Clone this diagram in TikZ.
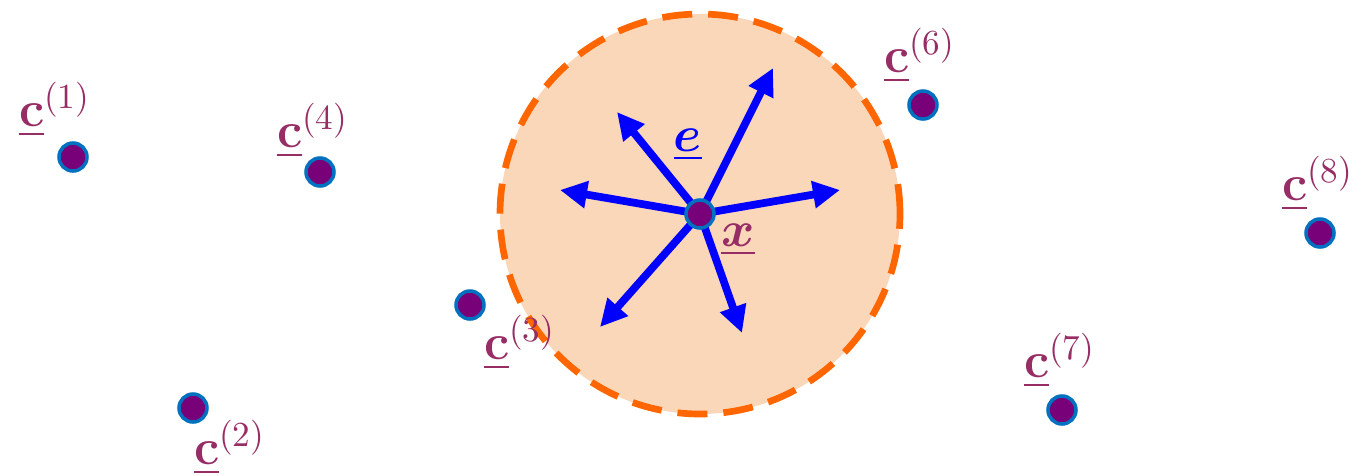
\documentclass[tikz,border=0pt]{standalone}
\usepackage{amsmath, amssymb}
\usepackage{xcolor}
\usepackage{tikz}
\usetikzlibrary{calc, positioning, arrows.meta}
\definecolor{plum}{RGB}{150, 45, 100}
\definecolor{dotpurple}{RGB}{120, 0, 120}
\definecolor{dotrim}{RGB}{0, 112, 192}
\definecolor{ballorange}{RGB}{255, 102, 0}
\definecolor{ballfill}{RGB}{251, 215, 186}
\definecolor{dirblue}{RGB}{0, 0, 255}
\tikzset{
    pt/.style={circle, fill=dotpurple, draw=dotrim, line width=1pt, minimum size=0.28cm, inner sep=0pt},
    lbl/.style={text=plum, font=\Large, inner sep=1pt},
    dir/.style={draw=dirblue, line width=2.2pt, -{Triangle[length=0.27cm, width=0.26cm]}}
}
\newcommand{\ctr}[1]{$\underline{\mathbf{c}}^{\text{\normalsize(#1)}}$}

\begin{document}
\begin{tikzpicture}
            \useasboundingbox (0,0) rectangle (13.59,4.75);
            % neighbourhood ball
            \draw[draw=ballorange, fill=ballfill, line width=1.9pt, dash pattern=on 0.3cm off 0.16cm]
                (7.00, 2.61) circle (2.0);
            % search directions
            \coordinate (x0) at (7.00, 2.61);
            \coordinate (d1) at (7.73, 4.07);
            \coordinate (d2) at (6.17, 3.63);
            \coordinate (d3) at (5.60, 2.85);
            \coordinate (d4) at (8.40, 2.85);
            \coordinate (d5) at (6.00, 1.48);
            \coordinate (d6) at (7.42, 1.42);
            \foreach \d in {d1, d2, d3, d4, d5, d6} {
                \draw[dir] (x0) -- (\d);
            }
            \node[pt] (x) at (x0) {};
            \node[text=dirblue, font=\Large] (e) at (6.88, 3.30) {$\underline{\boldsymbol{e}}$};
            \node[lbl] (xlbl) at (7.38, 2.35) {$\underline{\boldsymbol{x}}$};
            % centres
            \node[pt] (c1) at (0.73, 3.18) {};
            \node[pt] (c2) at (1.93, 0.67) {};
            \node[pt] (c3) at (4.70, 1.70) {};
            \node[pt] (c4) at (3.20, 3.03) {};
            \node[pt] (c6) at (9.23, 3.70) {};
            \node[pt] (c7) at (10.62, 0.65) {};
            \node[pt] (c8) at (13.20, 2.42) {};
            \node[lbl, above=0.0cm of c1, xshift=-0.18cm] (l1) {\ctr{1}};
            \node[lbl, below=-0.08cm of c2, xshift=0.37cm] (l2) {\ctr{2}};
            \node[lbl, below=-0.1cm of c3, xshift=0.5cm] (l3) {\ctr{3}};
            \node[lbl, above=-0.06cm of c4, xshift=-0.07cm] (l4) {\ctr{4}};
            \node[lbl, above=0.02cm of c6, xshift=-0.03cm] (l6) {\ctr{6}};
            \node[lbl, above=0.02cm of c7, xshift=-0.02cm] (l7) {\ctr{7}};
            \node[lbl, above=0.02cm of c8, xshift=-0.02cm] (l8) {\ctr{8}};
        \end{tikzpicture}
\end{document}
